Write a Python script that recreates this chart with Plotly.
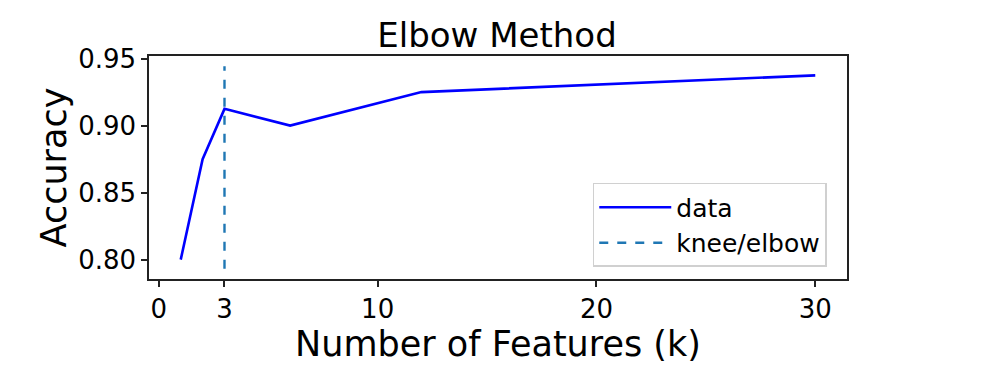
import plotly.graph_objects as go

# number of features vs. accuracy
k_values = [1, 2, 3, 6, 12, 30]
accuracy = [0.800, 0.875, 0.9125, 0.900, 0.925, 0.9375]
knee = 3

x_ticks = [0, 3, 10, 20, 30]
y_ticks = [0.80, 0.85, 0.90, 0.95]

FONT = "DejaVu Sans"

# matplotlib-style autoscale: 5% margin, vline spans the first limits
lo, hi = min(accuracy), max(accuracy)
pad = (hi - lo) * 0.05
v_lo, v_hi = lo - pad, hi + pad
pad2 = (v_hi - v_lo) * 0.05
y_range = [v_lo - pad2, v_hi + pad2]
xpad = (max(k_values) - min(k_values)) * 0.05
x_range = [min(k_values) - xpad, max(k_values) + xpad]

fig = go.Figure()
fig.add_trace(go.Scatter(
    x=k_values, y=accuracy, mode="lines", name="data",
    line=dict(color="blue", width=2.6),
))
fig.add_trace(go.Scatter(
    x=[knee, knee], y=[v_lo, v_hi], mode="lines", name="knee/elbow",
    line=dict(color="#1f77b4", width=2.4, dash="dash"),
))

axis_common = dict(
    showline=True, linecolor="#222", linewidth=1.5, mirror=True,
    ticks="outside", ticklen=6, tickwidth=1.5, tickcolor="#222",
    showgrid=False, zeroline=False, automargin=False,
    tickfont=dict(family=FONT, size=26, color="black"),
)

# page body has an 8px margin, so the figure is sized to fit inside it
W, H = 981, 358
fig.update_layout(
    width=W, height=H,
    margin=dict(l=141, r=142, t=48, b=87),
    paper_bgcolor="white", plot_bgcolor="white",
    font=dict(family=FONT, color="black"),
    title=dict(text="Elbow Method", x=0.4985, xanchor="center",
               y=1 - 27 / H, yanchor="middle", yref="container",
               automargin=False,
               font=dict(family=FONT, size=34, color="black")),
    xaxis=dict(**axis_common, range=x_range, tickvals=x_ticks,
               title=dict(text="Number of Features (k)", standoff=4,
                          font=dict(family=FONT, size=35, color="black"))),
    yaxis=dict(**axis_common, range=y_range, tickvals=y_ticks, tickformat=".2f",
               title=dict(text="Accuracy", standoff=1,
                          font=dict(family=FONT, size=35, color="black"))),
    legend=dict(x=0.971, y=0.054, xanchor="right", yanchor="bottom",
                bgcolor="white", bordercolor="#d0d0d0", borderwidth=1.5,
                font=dict(family=FONT, size=25, color="black"),
                itemwidth=72, tracegroupgap=0),
    showlegend=True,
)

fig.write_html("out.html")
